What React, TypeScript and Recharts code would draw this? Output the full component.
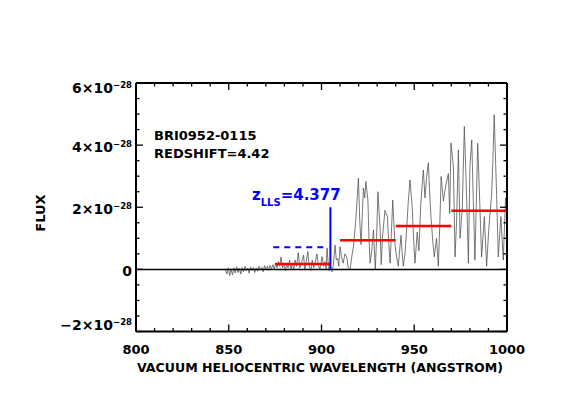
import React from 'react';
import { LineChart, Line, XAxis, YAxis, ReferenceLine, ReferenceDot } from 'recharts';

const wavelengths = [
  848, 849, 849.7, 850.5, 851.2, 852, 852.8, 853.5, 854.3, 855, 855.8, 856.5, 857.2, 858, 858.8, 859.5,
  860.3, 861, 861.8, 862.5, 863.3, 864, 864.8, 865.5, 866.3, 867, 867.8, 868.5, 869.3, 870, 870.8, 871.5,
  872.3, 873, 873.8, 874.5,
  875.3, 876, 876.8, 877.5, 878.2, 879, 879.7, 880.5, 881.2, 882, 882.8, 883.5, 884.3, 885, 885.8, 886.6,
  887.5, 888.3, 889.2, 890.3, 891, 891.8, 892.6, 893.4, 894.2, 895, 895.8, 896.6, 897.5, 898.3, 899.1,
  900.3, 901.1, 901.9, 902.5, 903, 903.7, 904.3,
  905, 905.7, 906.4, 907.3, 908, 908.7, 909.3, 910, 910.8, 911.7, 912.6, 913.6, 914.4, 915.4, 916.3,
  917.2, 918.5, 919.9, 920.6, 921.3, 922.6, 923.3, 923.9, 925, 925.6, 926.2, 927.1, 928, 929, 929.7,
  930.4, 931.6, 932.2, 932.9, 934.2, 935.5, 936.3, 937, 937.7, 938.4, 939.6, 940.5, 941.4, 942.1, 942.9,
  943.5, 944.1, 945, 945.9, 946.8, 947.7, 948.9, 949.7, 950.4, 951.6, 952.5, 953.5, 954.9, 955.8, 956.7,
  957.6, 958.2, 959, 960, 960.8, 962, 963, 963.8, 964.5, 965.7, 967, 968.4, 969.1, 969.8, 971.1, 972,
  972.8, 973.8, 974.7, 975.9, 977, 978.3, 979.2, 980, 981, 981.8, 982.7, 983.4, 984.2, 985.4, 986.3,
  987.8, 989, 990.3, 991.7, 992.4, 993.1, 994.4, 995.3, 996.7, 998, 999.2, 1000,
];

const fluxes = [
  0, -0.15, 0.05, -0.2, 0.02, -0.18, 0.05, -0.12, 0.08, -0.1, 0.03, -0.15, 0.06, -0.08, 0.1, -0.05,
  0.04, -0.12, 0.08, -0.03, 0.06, -0.1, 0.05, -0.06, 0.1, -0.02, 0.07, -0.08, 0.12, 0.0, 0.1, -0.04,
  0.13, 0.02, 0.15, 0.0,
  0.2, 0.05, 0.25, 0.1, 0.4, 0.05, 0.2, -0.05, 0.15, 0.05, 0.3, -0.02, 0.2, 0.0, 0.3, 0.1,
  0.54, 0.05, 0.2, 0.46, 0.0, 0.25, 0.57, 0.1, -0.05, 0.3, 0.05, 0.2, 0.5, 0.15, 0.0,
  0.41, 0.1, 0.25, 0.0, 0.69, 0.1, -0.05,
  0.05, -0.08, 0.15, 0.78, 0.3, 0.35, 0.1, 0.73, 0.4, 0.2, 0.5, 0.4, 0.05, 0.0, 0.4,
  0.73, 1.59, 2.94, 1.6, 0.8, 2.62, 2.3, 2.83, 2.24, 1.0, 0.2, 0.6, 1.27, 0.0, 1.0,
  2.5, 1.3, 0.15, 1.05, 1.9, 1.7, 0.8, 0.2, 1.2, 2.23, 0.8, 0.4, 0.1, 0.6, 1.1,
  0.5, 0.1, 0.5, 1.3, 2.2, 2.88, 2.0, 0.9, 0.2, 1.2, 0.6, 2.1, 3.2, 2.3, 2.99,
  3.43, 2.6, 1.7, 0.9, 0.4, 1.0, 0.1, 1.5, 2.99, 2.2, 2.7, 3.08, 1.8, 4.07, 3.3, 0.4,
  1.5, 3.85, 1.0, 2.0, 4.6, 2.2, 0.2, 3.3, 4.17, 2.3, 0.3, 2.0, 4.06, 2.0, 0.4,
  1.7, 0.1, 1.4, 2.4, 3.5, 4.98, 2.4, 0.4, 1.7, 0.3, 2.3, 1.8,
];

const xTicks = [800, 810, 820, 830, 840, 850, 860, 870, 880, 890, 900, 910, 920, 930, 940, 950, 960, 970, 980, 990, 1000];
const xMajor = [800, 850, 900, 950, 1000];
const yTicks = [-2, -1.5, -1, -0.5, 0, 0.5, 1, 1.5, 2, 2.5, 3, 3.5, 4, 4.5, 5, 5.5, 6];
const yMajor = [-2, 0, 2, 4, 6];

const llsWavelength = 904.8;
const llsTop = 2.0;
const dashedFrom = 874;
const dashedTo = 903;
const dashedLevel = 0.71;
const redFrom = [875, 910, 940, 970];
const redTo = [905, 940, 970, 1000];
const redLevel = [0.17, 0.94, 1.4, 1.89];

const objectName = 'BRI0952-0115';
const redshiftText = 'REDSHIFT=4.42';
const llsValue = '4.377';

const data = wavelengths.map((w, i) => ({ w, f: fluxes[i] }));

const FONT = "'DejaVu Sans', Verdana, sans-serif";

function BottomTick(props: any) {
  const { x, y, payload } = props;
  const v = payload.value;
  const major = xMajor.includes(v);
  return (
    <g>
      <line x1={x} x2={x} y1={y} y2={y - (major ? 7 : 3.5)} stroke="#000" strokeWidth={1.3} />
      {major && (
        <text x={x} y={y + 22.5} textAnchor="middle" fontFamily={FONT} fontWeight="bold" fontSize={13} fill="#000">
          {v}
        </text>
      )}
    </g>
  );
}

function TopTick(props: any) {
  const { x, y, payload } = props;
  const major = xMajor.includes(payload.value);
  return <line x1={x} x2={x} y1={y} y2={y + (major ? 7 : 3.5)} stroke="#000" strokeWidth={1.3} />;
}

function LeftTick(props: any) {
  const { x, y, payload } = props;
  const v = payload.value;
  const major = yMajor.includes(v);
  const cy = Math.min(Math.max(y + 2, 88), 325);
  return (
    <g>
      <line x1={x} x2={x + (major ? 7 : 3.5)} y1={y} y2={y} stroke="#000" strokeWidth={1.3} />
      {major && (
        <text x={x - 4} y={cy + 5} textAnchor="end" fontFamily={FONT} fontWeight="bold" fontSize={14} fill="#000">
          {v === 0 ? (
            '0'
          ) : (
            <>
              <tspan>{(v < 0 ? '\u2212' : '') + Math.abs(v) + '\u00d710'}</tspan>
              <tspan fontSize={8.5} dy={-5.5}>{'\u221228'}</tspan>
            </>
          )}
        </text>
      )}
    </g>
  );
}

function RightTick(props: any) {
  const { x, y, payload } = props;
  const major = yMajor.includes(payload.value);
  return <line x1={x} x2={x - (major ? 7 : 3.5)} y1={y} y2={y} stroke="#000" strokeWidth={1.3} />;
}

const blackText = (text: string) => (props: any) => {
  const vb = props.viewBox || {};
  return (
    <text x={vb.x} y={vb.y} fontFamily={FONT} fontWeight="bold" fontSize={13} fill="#000">
      {text}
    </text>
  );
};

const llsLabel = (props: any) => {
  const vb = props.viewBox || {};
  return (
    <text x={vb.x} y={vb.y} fontFamily={FONT} fontWeight="bold" fontSize={15} fill="#0000ff">
      <tspan>z</tspan>
      <tspan fontSize={10} dy={6}>LLS</tspan>
      <tspan dy={-6}>{'=' + llsValue}</tspan>
    </text>
  );
};

export default function App() {
  return (
    <div style={{ position: 'absolute', left: 0, top: 0, width: 564, height: 415, background: '#fff' }}>
      <LineChart
        width={564}
        height={415}
        data={data}
        margin={{ top: 73, right: 47, bottom: 43.5, left: 56 }}
      >
        <XAxis
          xAxisId="bottom"
          dataKey="w"
          type="number"
          domain={[800, 1000]}
          ticks={xTicks}
          interval={0}
          allowDataOverflow
          height={40}
          tickSize={0}
          tickMargin={0}
          tickLine={false}
          axisLine={{ stroke: '#000', strokeWidth: 2 }}
          tick={<BottomTick />}
        />
        <XAxis
          xAxisId="top"
          orientation="top"
          dataKey="w"
          type="number"
          domain={[800, 1000]}
          ticks={xTicks}
          interval={0}
          allowDataOverflow
          height={10}
          tickSize={0}
          tickMargin={0}
          tickLine={false}
          axisLine={{ stroke: '#000', strokeWidth: 2 }}
          tick={<TopTick />}
        />
        <YAxis
          yAxisId="left"
          type="number"
          domain={[-2, 6]}
          ticks={yTicks}
          interval={0}
          allowDataOverflow
          width={80}
          tickSize={0}
          tickMargin={0}
          tickLine={false}
          axisLine={{ stroke: '#000', strokeWidth: 2 }}
          tick={<LeftTick />}
        />
        <YAxis
          yAxisId="right"
          orientation="right"
          type="number"
          domain={[-2, 6]}
          ticks={yTicks}
          interval={0}
          allowDataOverflow
          width={10}
          tickSize={0}
          tickMargin={0}
          tickLine={false}
          axisLine={{ stroke: '#000', strokeWidth: 2 }}
          tick={<RightTick />}
        />
        <Line
          xAxisId="bottom"
          yAxisId="left"
          type="linear"
          dataKey="f"
          stroke="#555"
          strokeWidth={0.8}
          dot={false}
          isAnimationActive={false}
        />
        <ReferenceLine xAxisId="bottom" yAxisId="left" y={0} stroke="#000" strokeWidth={1.5} />
        <ReferenceLine
          xAxisId="bottom"
          yAxisId="left"
          segment={[{ x: dashedFrom, y: dashedLevel }, { x: dashedTo, y: dashedLevel }]}
          stroke="#0000ff"
          strokeWidth={2}
          strokeDasharray="6 5"
        />
        {redFrom.map((from, i) => (
          <ReferenceLine
            key={i}
            xAxisId="bottom"
            yAxisId="left"
            segment={[{ x: from, y: redLevel[i] }, { x: redTo[i], y: redLevel[i] }]}
            stroke="#ff0000"
            strokeWidth={2.5}
          />
        ))}
        <ReferenceLine
          xAxisId="bottom"
          yAxisId="left"
          segment={[{ x: llsWavelength, y: 0 }, { x: llsWavelength, y: llsTop }]}
          stroke="#0000ff"
          strokeWidth={2}
        />
        <ReferenceDot xAxisId="bottom" yAxisId="left" x={809.7} y={4.17} r={0} fill="none" stroke="none" label={blackText(objectName)} />
        <ReferenceDot xAxisId="bottom" yAxisId="left" x={809.7} y={3.59} r={0} fill="none" stroke="none" label={blackText(redshiftText)} />
        <ReferenceDot xAxisId="bottom" yAxisId="left" x={862.5} y={2.24} r={0} fill="none" stroke="none" label={llsLabel} />
      </LineChart>
      <svg width={564} height={415} style={{ position: 'absolute', left: 0, top: 0, pointerEvents: 'none' }}>
        <text
          x={320}
          y={372}
          textAnchor="middle"
          fontFamily={FONT}
          fontWeight="bold"
          fontSize={13}
          textLength={366}
          lengthAdjust="spacingAndGlyphs"
          fill="#000"
        >
          VACUUM HELIOCENTRIC WAVELENGTH (ANGSTROM)
        </text>
        <text
          x={45}
          y={213}
          transform="rotate(-90 45 213)"
          textAnchor="middle"
          fontFamily={FONT}
          fontWeight="bold"
          fontSize={13}
          fill="#000"
        >
          FLUX
        </text>
      </svg>
    </div>
  );
}
